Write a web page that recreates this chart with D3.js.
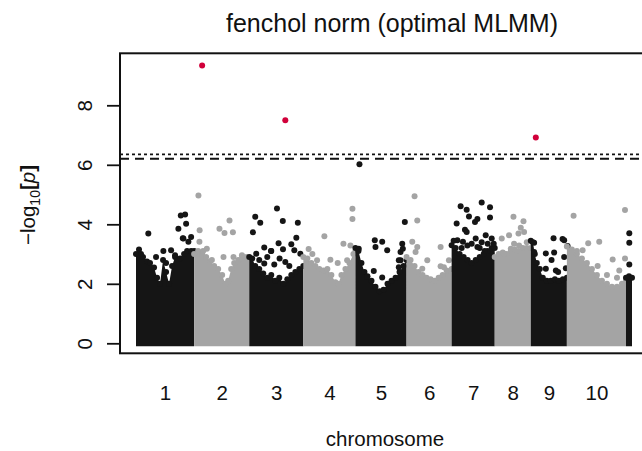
<!DOCTYPE html>
<html><head><meta charset="utf-8">
<script src="https://cdn.jsdelivr.net/npm/d3@7"></script>
<style>
body{margin:0;background:#fff}
svg{display:block}
text{font-family:"Liberation Sans",Arial,Helvetica,sans-serif;fill:#111}
</style>
</head><body>
<svg id="c" width="642" height="451"></svg>
<script>
// ---------------- data ----------------
const chromosomes = ["1","2","3","4","5","6","7","8","9","10",""];
const chromLengths = [58,55,54,52,51,45,43,36,36,59,6];
const yTicks = [0,2,4,6,8];
const titleText = "fenchol norm (optimal MLMM)";
const xLabel = "chromosome";
const thresholdDotted = 6.35;
const thresholdDashed = 6.2;

// upper edge of the dense point cloud in each chromosome: [position, -log10 p]
const env1 = [[0,3.0],[3,3.15],[7,2.9],[11,2.75],[14,2.7],[18,2.55],[21,2.2],[24,2.0],[27,2.8],[30,2.4],[33,2.0],[36,2.6],[39,2.9],[44,2.85],[48,3.0],[51,3.1],[55,3.1],[58,3.1]];
const env2 = [[0,3.0],[4,3.1],[8,3.0],[12,2.9],[16,2.75],[20,2.6],[24,2.5],[28,2.3],[31,2.0],[34,2.1],[37,2.5],[40,2.7],[44,2.8],[48,2.9],[52,2.9],[55,2.9]];
const env3 = [[0,2.9],[3,2.85],[6,2.6],[10,2.5],[14,2.35],[18,2.2],[22,2.3],[26,2.1],[30,2.2],[34,2.0],[38,2.15],[42,2.3],[46,2.4],[50,2.5],[54,2.6]];
const env4 = [[0,2.9],[4,2.85],[8,2.7],[12,2.6],[16,2.5],[20,2.45],[24,2.5],[28,2.3],[32,2.05],[35,2.0],[38,2.3],[42,2.5],[46,2.7],[50,3.0],[52,3.1]];
const env5 = [[0,3.2],[3,3.1],[6,2.7],[9,2.4],[12,2.25],[16,2.1],[20,1.9],[24,1.75],[28,1.8],[32,2.0],[36,2.1],[40,2.2],[44,2.4],[48,2.6],[51,2.8]];
const env6 = [[0,2.9],[4,2.8],[8,2.6],[12,2.4],[16,2.3],[20,2.2],[24,2.15],[28,2.1],[32,2.2],[36,2.3],[40,2.45],[45,2.5]];
const env7 = [[0,3.3],[4,3.2],[8,3.0],[12,2.9],[16,2.8],[20,2.7],[24,2.8],[28,2.9],[32,3.0],[36,3.1],[40,3.2],[43,3.2]];
const env8 = [[0,2.9],[4,3.0],[8,3.05],[12,3.0],[16,3.1],[20,3.15],[24,3.1],[28,3.2],[32,3.2],[36,3.2]];
const env9 = [[0,3.45],[2,3.4],[4,3.0],[6,2.7],[9,2.5],[12,2.2],[16,2.1],[20,2.1],[24,2.15],[28,2.1],[32,2.15],[36,2.2]];
const env10 = [[0,3.25],[5,3.15],[10,3.0],[15,2.85],[20,2.7],[25,2.5],[30,2.3],[35,2.1],[40,2.0],[45,1.9],[50,1.9],[55,2.0],[59,2.1]];
const env11 = [[0,2.2],[3,2.25],[6,2.2]];
const envelopes = [env1,env2,env3,env4,env5,env6,env7,env8,env9,env10,env11];

// individual markers above the dense cloud: [chromosome, position, -log10 p]
const scatterPoints = [
 [1,12.3,3.69],[1,27.3,3.10],[1,35,3.13],[1,39,2.96],[1,42.3,3.85],[1,44.7,4.30],[1,49,4.33],[1,50,4.02],[1,47.3,3.52],[1,55,3.57],[1,52.3,3.41],[1,46.7,3.53],[1,5,3.0],[1,20,2.9],[1,30,2.7],
 [2,4.3,4.97],[2,5.5,3.8],[2,5.3,3.41],[2,12.7,3.18],[2,25.3,3.85],[2,30.3,3.71],[2,35.3,4.13],[2,38.7,3.73],[2,17.7,2.8],[2,29.3,2.9],[2,39.3,2.9],[2,47.7,2.96],[2,9,3.1],
 [3,3.7,3.73],[3,6,4.25],[3,11,4.05],[3,27.7,4.53],[3,33.5,4.11],[3,48.5,4.05],[3,47,3.55],[3,15,3.22],[3,22,3.10],[3,29.3,3.36],[3,33.7,3.16],[3,42,3.33],[3,7,3.01],[3,21.7,3.1],[3,51,3.01],[3,15,2.68],[3,30.3,2.85],[3,36,2.73],[3,45,3.13],[3,10,2.8],[3,40,2.6],[3,25,2.65],[3,18,2.9],
 [4,21,3.6],[4,5.3,3.17],[4,49,4.52],[4,49,4.18],[4,40,3.35],[4,47,3.29],[4,27,2.81],[4,13.7,2.79],[4,34.3,2.7],[4,43.7,2.79],[4,9,3.0],
 [5,4,6.02],[5,3.3,3.18],[5,19.3,3.46],[5,26.7,3.41],[5,20,3.24],[5,31.7,3.13],[5,49.3,4.08],[5,46.7,3.35],[5,45,3.07],[5,43.3,2.79],[5,18.3,2.43],[5,26.7,2.21],[5,11.7,2.23],[5,47.3,3.18],[5,45,2.79],[5,43.3,2.56],
 [6,8,4.94],[6,10.7,4.13],[6,5.7,3.41],[6,9,3.07],[6,10.7,3.24],[6,20.7,2.79],[6,34,2.59],[6,42.3,2.79],[6,15.7,2.51],[6,34,3.24],[6,37.3,2.56],
 [7,9,4.61],[7,15,4.49],[7,30,4.73],[7,38.3,4.57],[7,38.3,4.23],[7,5,4.03],[7,17.3,4.26],[7,23.3,4.08],[7,25.7,4.18],[7,13.3,3.82],[7,15,3.74],[7,24,3.52],[7,34,3.63],[7,40,3.52],[7,5.7,3.46],[7,11.3,3.41],[7,15.7,3.29],[7,25.7,3.24],[7,20,3.35],[7,30,3.4],[7,36,3.35],[7,2,3.45],[7,10,3.2],[7,28,3.2],[7,33,3.1],[7,42,3.35],
 [8,18.7,4.25],[8,28.7,4.1],[8,26,3.88],[8,23.7,3.69],[8,14.3,3.63],[8,7,3.52],[8,19.3,3.35],[8,29.3,3.74],[8,9.3,3.01],[8,16,3.18],[8,24.3,3.29],[8,32,3.4],
 [9,22.7,3.53],[9,31.7,3.51],[9,33.3,3.46],[9,15,3.02],[9,23.3,3.05],[9,20.7,2.8],[9,33.3,2.9],[9,15,2.51],[9,25,2.45],[9,35,2.52],[9,3.3,3.38],[9,3.3,3.07],[9,27.3,2.4],[9,36.7,3.27],
 [10,6.7,4.29],[10,21.3,3.36],[10,32.3,3.41],[10,30.7,2.6],[10,45.7,2.82],[10,52.3,2.45],[10,58,4.48],[10,58,2.85],[10,15.7,3.13],[10,10,3.1],[10,40,2.3],[10,50,2.2],
 [11,3.3,3.7],[11,3.3,3.38],[11,3.3,2.65]
];
// markers above the significance threshold: [chromosome, position, -log10 p]
const significantPoints = [[2,8,9.34],[3,36,7.5],[9,5,6.92]];

// ---------------- drawing ----------------
const svg = d3.select("#c");
const box = {left:120, top:53.3, right:648, bottom:353.3};
const offsets = d3.cumsum([0].concat(chromLengths.slice(0,-1)));
const total = d3.sum(chromLengths);
const x = d3.scaleLinear().domain([0,total]).range([136,632]);
const y = d3.scaleLinear().domain([0,8]).range([343.3,105.3]);
const dark = "#151515", light = "#a4a4a4", red = "#d1003a";
const r = 3;
const colorOf = i => (i % 2 === 0 ? dark : light);

const plot = svg.append("g");
const area = d3.area()
  .x(d => x(d.o + d[0]))
  .y0(y(0) + r)
  .y1(d => y(d[1]));

chromosomes.forEach((c,i) => {
  const g = plot.append("g");
  const pts = envelopes[i].map(p => Object.assign([p[0],p[1]], {o: offsets[i]}));
  g.append("path").datum(pts).attr("d", area).attr("fill", colorOf(i));
  g.selectAll("circle.e").data(pts).join("circle")
    .attr("cx", d => x(d.o + d[0])).attr("cy", d => y(d[1])).attr("r", r)
    .attr("fill", colorOf(i));
  g.selectAll("circle.s").data(scatterPoints.filter(p => p[0] === i+1)).join("circle")
    .attr("cx", d => x(offsets[i] + d[1])).attr("cy", d => y(d[2])).attr("r", r)
    .attr("fill", colorOf(i));
});

plot.selectAll("circle.sig").data(significantPoints).join("circle")
  .attr("cx", d => x(offsets[d[0]-1] + d[1])).attr("cy", d => y(d[2])).attr("r", r)
  .attr("fill", red);

// threshold lines
svg.append("line").attr("x1", box.left).attr("x2", box.right)
  .attr("y1", y(thresholdDotted)).attr("y2", y(thresholdDotted))
  .attr("stroke", "#111").attr("stroke-width", 1.6).attr("stroke-dasharray", "3,3");
svg.append("line").attr("x1", box.left).attr("x2", box.right)
  .attr("y1", y(thresholdDashed)).attr("y2", y(thresholdDashed))
  .attr("stroke", "#111").attr("stroke-width", 2).attr("stroke-dasharray", "9,6");

// y axis
const yAxis = svg.append("g").attr("transform", `translate(${box.left},0)`)
  .call(d3.axisLeft(y).tickValues(yTicks).tickSize(13).tickFormat(d3.format("d")));
yAxis.select(".domain").remove();
yAxis.selectAll(".tick line").attr("stroke", "#111").attr("stroke-width", 1.8);
yAxis.selectAll(".tick text")
  .attr("transform", "rotate(-90)").attr("x", 0).attr("y", -28.5).attr("dy", 0)
  .attr("text-anchor", "middle").style("font-size", "20.5px")
  .style("font-family", '"Liberation Sans",Arial,sans-serif').attr("fill", "#111");

// x axis (labels only)
const centers = chromLengths.map((L,i) => offsets[i] + L/2);
const xAxis = svg.append("g").attr("transform", `translate(0,${box.bottom})`)
  .call(d3.axisBottom(x).tickValues(centers).tickSize(0).tickFormat((d,i) => chromosomes[i]));
xAxis.select(".domain").remove();
xAxis.selectAll(".tick text").attr("y", 46.5).attr("dy", 0)
  .style("font-size", "20.5px").style("font-family", '"Liberation Sans",Arial,sans-serif').attr("fill", "#111");

// box
svg.append("rect").attr("x", box.left).attr("y", box.top)
  .attr("width", box.right - box.left).attr("height", box.bottom - box.top)
  .attr("fill", "none").attr("stroke", "#111").attr("stroke-width", 2);

// titles
svg.append("text").attr("x", 392).attr("y", 32).attr("text-anchor", "middle")
  .style("font-size", "25px").text(titleText);
svg.append("text").attr("x", 385).attr("y", 446).attr("text-anchor", "middle")
  .style("font-size", "20.5px").text(xLabel);

const yl = svg.append("text").attr("transform", "translate(35,205) rotate(-90)")
  .attr("text-anchor", "middle").style("font-size", "20.5px");
yl.append("tspan").text("\u2212log");
yl.append("tspan").attr("dy", 5).style("font-size", "14px").text("10");
yl.append("tspan").attr("dy", -5).style("font-weight", "bold").text("[");
yl.append("tspan").style("font-style", "italic").text("p");
yl.append("tspan").style("font-weight", "bold").text("]");
</script>
</body></html>
